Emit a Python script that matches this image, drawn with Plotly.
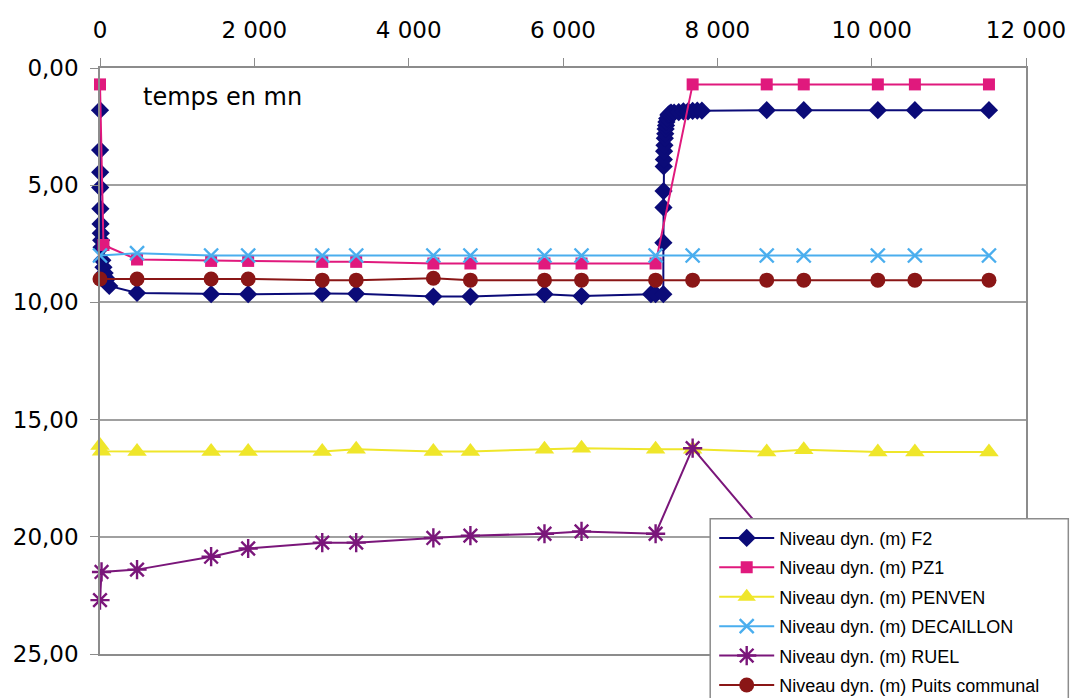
import plotly.graph_objects as go

# ---- data (time in minutes, level in m) ----
t_common = [0, 480, 1440, 1920, 2880, 3320, 4320, 4800, 5760, 6240, 7200, 7680,
            8640, 9120, 10080, 10560, 11520]

t_f2 = [0, 1, 2, 3, 5, 7, 10, 15, 20, 30, 45, 60, 90, 120, 480, 1440, 1920, 2880,
        3320, 4320, 4800, 5760, 6240, 7140, 7200, 7300, 7301, 7302, 7303, 7305,
        7307, 7310, 7315, 7320, 7325, 7330, 7335, 7340, 7350, 7365, 7380, 7400,
        7440, 7500, 7560, 7620, 7680, 7740, 7800, 8640, 9120, 10080, 10560, 11520]
v_f2 = [1.8, 3.5, 4.45, 5.1, 6.0, 6.65, 7.05, 7.35, 7.65, 8.2, 8.5, 8.75, 9.0, 9.3,
        9.6, 9.65, 9.65, 9.62, 9.63, 9.75, 9.75, 9.65, 9.73, 9.65, 9.65, 9.65,
        7.45, 5.95, 5.25, 4.2, 3.9, 3.55, 3.3, 3.0, 2.8, 2.6, 2.45, 2.3, 2.15,
        2.0, 1.95, 1.9, 1.9, 1.88, 1.85, 1.85, 1.83, 1.82, 1.82, 1.8, 1.8, 1.8,
        1.8, 1.8]

t_pz1 = [0, 45, 480, 1440, 1920, 2880, 3320, 4320, 4800, 5760, 6240, 7200, 7680,
         8640, 9120, 10080, 10560, 11520]
v_pz1 = [0.7, 7.55, 8.17, 8.23, 8.23, 8.27, 8.27, 8.34, 8.34, 8.34, 8.34, 8.34,
         0.7, 0.7, 0.7, 0.7, 0.7, 0.7]

t_penven = [0, 20, 480, 1440, 1920, 2880, 3320, 4320, 4800, 5760, 6240, 7200, 7680,
            8640, 9120, 10080, 10560, 11520]
v_penven = [16.1, 16.35, 16.36, 16.36, 16.36, 16.36, 16.26, 16.36, 16.36, 16.26,
            16.22, 16.26, 16.26, 16.38, 16.29, 16.38, 16.38, 16.38]

v_decaillon = [8.0, 7.9, 8.0, 8.0, 8.0, 8.0, 8.0, 8.0, 8.0, 8.0, 8.0, 8.0,
               8.0, 8.0, 8.0, 8.0, 8.0]

t_ruel = [0, 20, 480, 1440, 1920, 2880, 3320, 4320, 4800, 5760, 6240, 7200, 7680, 8640]
v_ruel = [22.7, 21.5, 21.4, 20.85, 20.5, 20.25, 20.25, 20.05, 19.95, 19.87, 19.77,
          19.87, 16.22, 19.95]

v_puits = [9.0, 9.0, 9.0, 9.0, 9.05, 9.05, 8.97, 9.05, 9.05, 9.05, 9.05, 9.05,
           9.05, 9.05, 9.05, 9.05, 9.05]

names = ["Niveau dyn. (m) F2", "Niveau dyn. (m) PZ1", "Niveau dyn. (m) PENVEN",
         "Niveau dyn. (m) DECAILLON", "Niveau dyn. (m) RUEL",
         "Niveau dyn. (m) Puits communal"]

x_ticks = [0, 2000, 4000, 6000, 8000, 10000, 12000]
y_ticks = [0, 5, 10, 15, 20, 25]

# ---- figure ----
fig = go.Figure()

def add(x, y, name, color, symbol, size, mline=0, grp="a"):
    fig.add_trace(go.Scatter(
        x=x, y=y, name=name, mode="lines+markers", legendgroup=grp,
        cliponaxis=False,
        line=dict(color=color, width=2),
        marker=dict(symbol=symbol, size=size, color=color,
                    line=dict(color=color, width=mline)),
    ))

add(t_f2, v_f2, names[0], "#0b0b78", "diamond", 14, grp="g1")
add(t_pz1, v_pz1, names[1], "#e0197d", "square", 12, grp="g2")
add(t_penven, v_penven, names[2], "#efe62a", "triangle-up", 17, grp="g3")
add(t_common, v_decaillon, names[3], "#4aaeee", "x-thin", 14, mline=2.4, grp="g4")
add(t_ruel, v_ruel, names[4], "#7a167a", "asterisk", 16, mline=2.4, grp="g5")
add(t_common, v_puits, names[5], "#8a1616", "circle", 15, grp="g6")

L, R, T, B = 100, 46.3, 67.5, 43.5
W, H = 1072, 698
pw, ph = W - L - R, H - T - B

def px(xp):
    return (xp - L) / pw

def py(yp):
    return (H - B - yp) / ph

fig.update_layout(
    width=W, height=H,
    margin=dict(l=L, r=R, t=T, b=B, autoexpand=False),
    paper_bgcolor="white", plot_bgcolor="white",
    separators=", ",
    font=dict(family="DejaVu Sans", size=23, color="black"),
    showlegend=True,
    legend=dict(
        x=px(714), y=py(520), xanchor="left", yanchor="top",
        bgcolor="rgba(0,0,0,0)", borderwidth=0,
        font=dict(family="Liberation Sans, Arial", size=18, color="black"),
        itemwidth=55, tracegroupgap=3, traceorder="grouped",
    ),
    xaxis=dict(
        range=[0, 12000], side="top", tickvals=x_ticks, tickformat=",.0f",
        showgrid=False, zeroline=False,
        showline=True, linecolor="#8c8c8c", linewidth=1.5, mirror=True,
        ticks="outside", ticklen=8, tickcolor="#8c8c8c", tickwidth=1,
        ticklabelstandoff=11,
    ),
    yaxis=dict(
        range=[25, 0], tickvals=y_ticks, tickformat=".2f",
        showgrid=True, gridcolor="#a0a0a0", gridwidth=1.5, zeroline=False,
        showline=True, linecolor="#8c8c8c", linewidth=1.5, mirror=True,
        ticks="outside", ticklen=8, tickcolor="#8c8c8c", tickwidth=1,
        ticklabelstandoff=7,
    ),
    shapes=[dict(
        type="rect", xref="paper", yref="paper", layer="above",
        x0=px(710), x1=px(1068), y0=py(705), y1=py(519),
        fillcolor="white", line=dict(color="#8c8c8c", width=1.5),
    )],
    annotations=[dict(
        text="temps en mn", xref="paper", yref="paper",
        x=px(141), y=py(97), xanchor="left", yanchor="middle",
        showarrow=False, font=dict(family="DejaVu Sans", size=24, color="black"),
    )],
)

fig.write_html("out.html")
